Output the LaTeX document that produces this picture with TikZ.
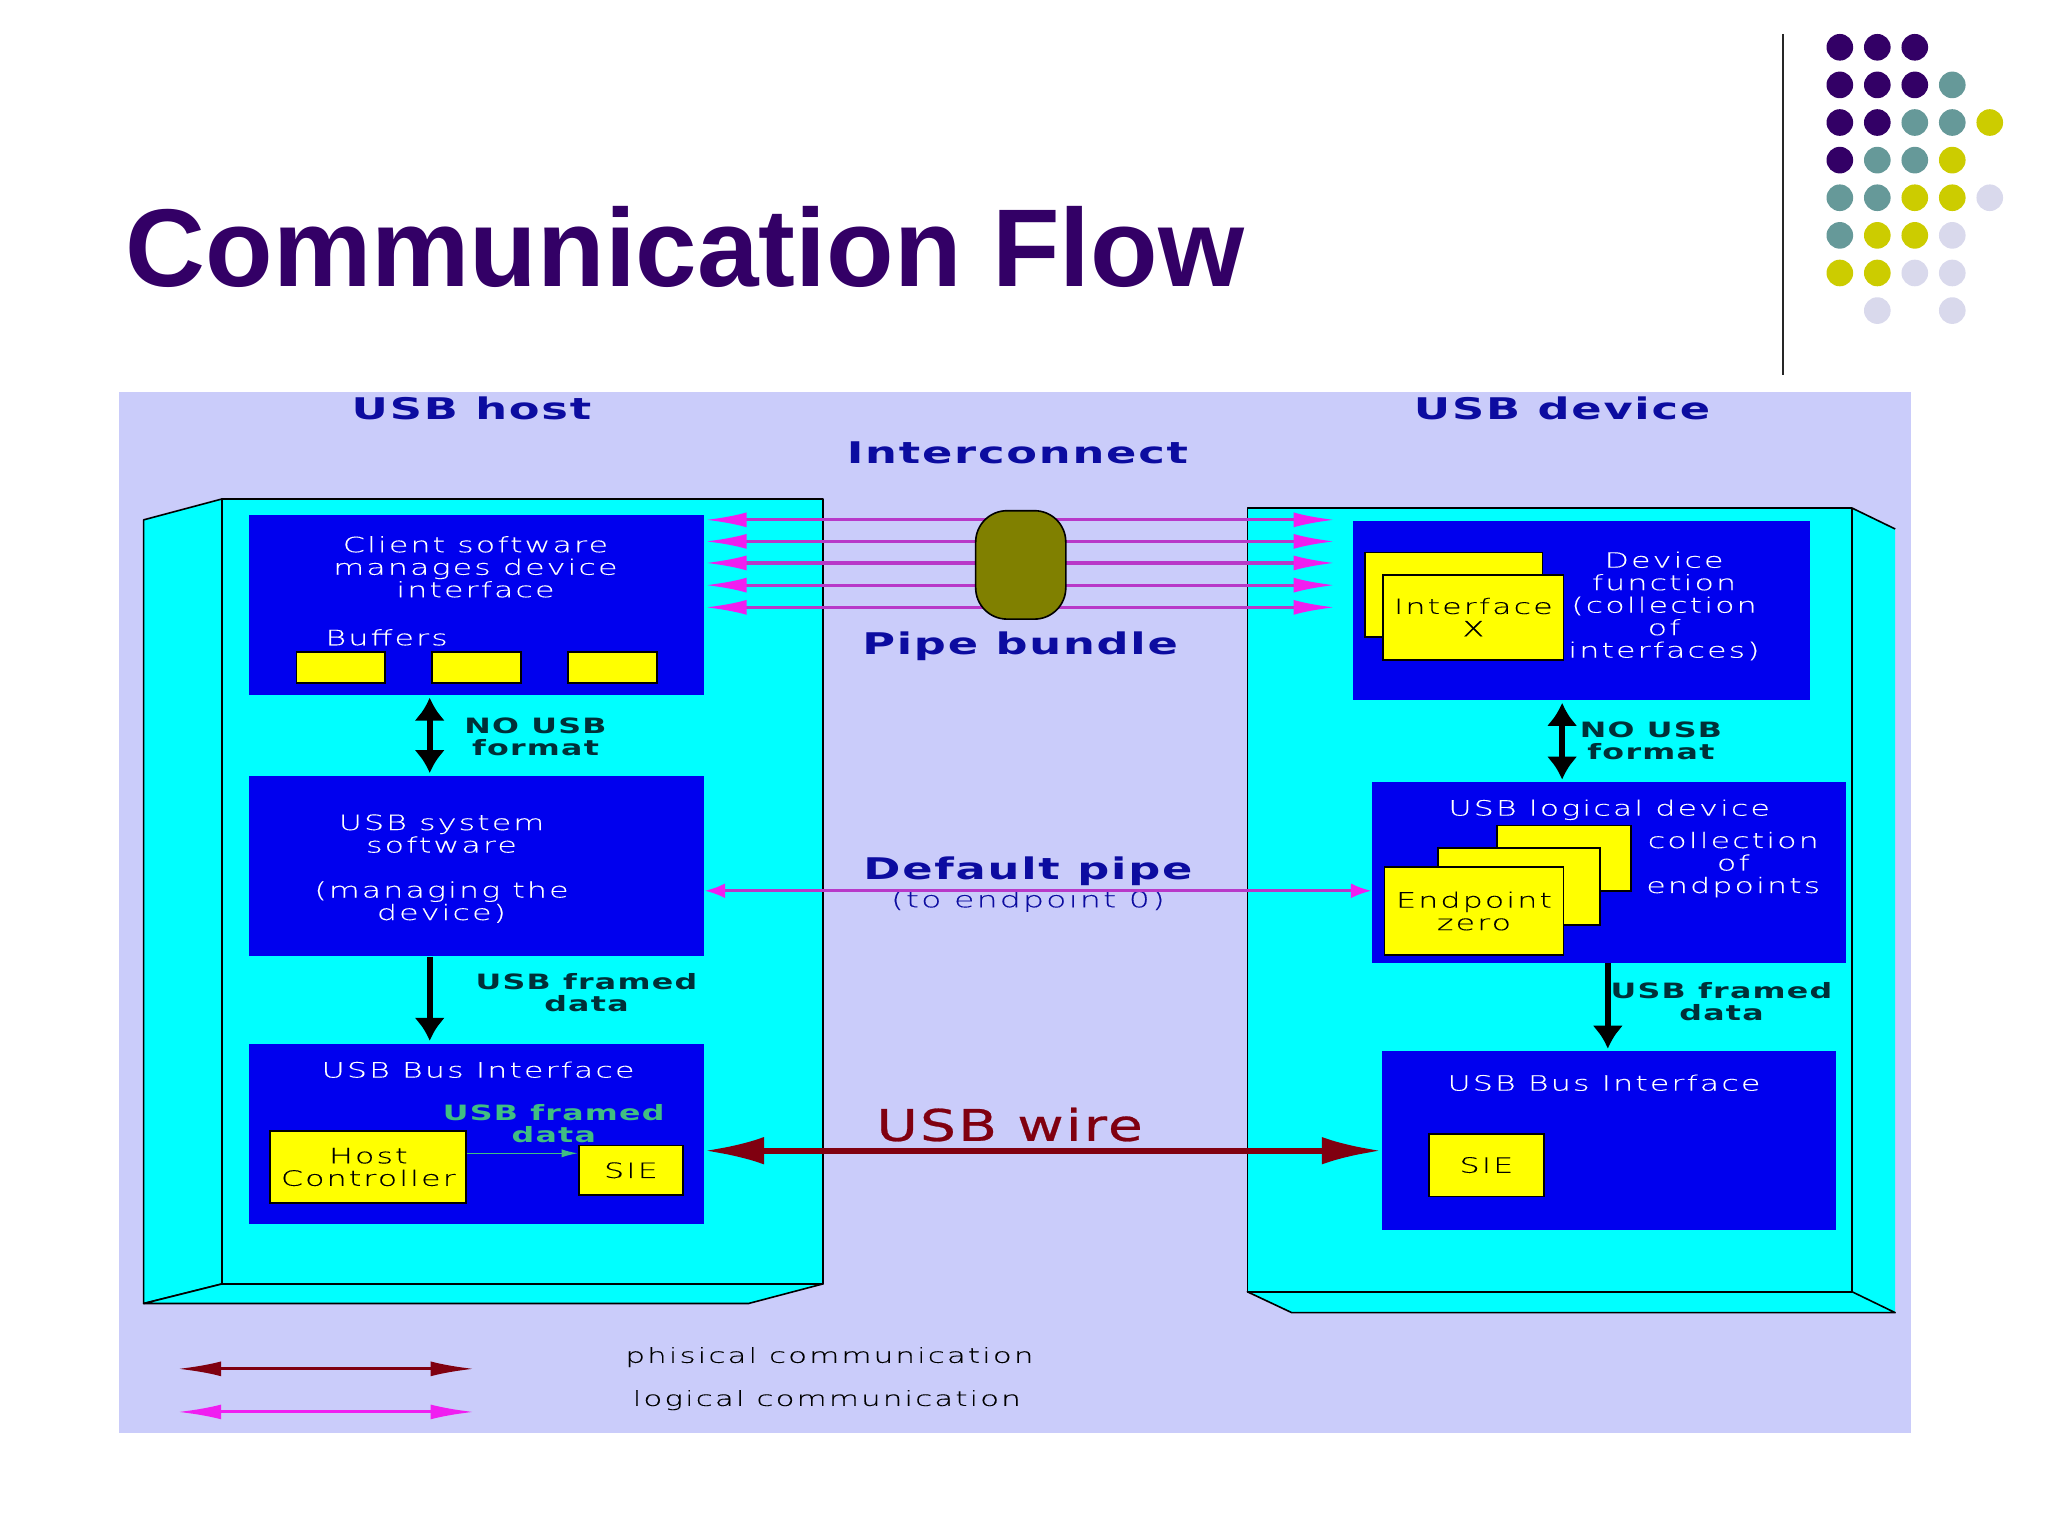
\documentclass[tikz,border=0pt]{standalone}
\usepackage{fontspec}
\setmainfont{Liberation Sans}
\newfontfamily\thinfont{DejaVu Sans ExtraLight}[FakeStretch=1.5,LetterSpace=10,FakeBold=0.25]
\newfontfamily\heavyfont{DejaVu Sans Bold}[FakeStretch=1.5,LetterSpace=6]
\newfontfamily\wirefont{DejaVu Sans}[FakeStretch=1.3,LetterSpace=5,FakeBold=0.6]
\usetikzlibrary{arrows.meta}
\definecolor{panelblue}{RGB}{202,204,250}
\definecolor{boxblue}{RGB}{0,0,238}
\definecolor{wallcyan}{RGB}{0,255,255}
\definecolor{boxyellow}{RGB}{255,255,0}
\definecolor{bundleolive}{RGB}{128,128,0}
\definecolor{navytext}{RGB}{12,12,160}
\definecolor{darkteal}{RGB}{0,48,56}
\definecolor{pipepink}{RGB}{184,56,200}
\definecolor{tippink}{RGB}{240,30,240}
\definecolor{wirered}{RGB}{128,0,16}
\definecolor{leafgreen}{RGB}{64,190,130}
\definecolor{titlepurple}{RGB}{51,0,102}
\definecolor{dotteal}{RGB}{102,153,153}
\definecolor{dotyellow}{RGB}{204,204,0}
\definecolor{dotlilac}{RGB}{217,217,236}
\begin{document}
\begin{tikzpicture}[x=0.02cm,y=-0.02cm,
  box size/.style 2 args={minimum width=#1*0.02cm,minimum height=#2*0.02cm},
  blue box/.style={fill=boxblue,inner sep=0pt},
  yellow box/.style={fill=boxyellow,draw=black,line width=0.8pt,inner sep=0pt,align=center,
    font=\thinfont\fontsize{9.2}{9.8}\selectfont,text=black},
  white text/.style={text=white,inner sep=0pt,align=center,font=\thinfont\fontsize{9.2}{9.8}\selectfont},
  legend text/.style={text=black,inner sep=0pt,font=\thinfont\fontsize{9}{9.8}\selectfont},
  head text/.style={text=navytext,inner sep=0pt,font=\heavyfont\fontsize{13}{14}\selectfont},
  bold text/.style={text=darkteal,inner sep=0pt,align=center,font=\heavyfont\fontsize{9.2}{9.6}\selectfont},
  wall/.style={fill=wallcyan,draw=black,line width=0.7pt,line join=round},
  pipe/.style={pipepink,line width=1.4pt,{Latex[length=18pt,width=6.5pt,tippink]}-{Latex[length=18pt,width=6.5pt,tippink]}},
  default pipe/.style={pipepink,line width=1.3pt,{Latex[length=9pt,width=6.5pt,tippink]}-{Latex[length=9pt,width=6.5pt,tippink]}},
  wire/.style={wirered,line width=2.6pt,{Latex[length=26pt,width=12pt]}-{Latex[length=26pt,width=12pt]}},
  legend wire/.style={wirered,line width=1.3pt,{Latex[length=19pt,width=6.5pt]}-{Latex[length=19pt,width=6.5pt]}},
  legend pipe/.style={tippink,line width=1.3pt,{Latex[length=19pt,width=6.5pt]}-{Latex[length=19pt,width=6.5pt]}},
  both way/.style={black,line width=2.6pt,{Latex[length=10pt,width=13.5pt]}-{Latex[length=10pt,width=13.5pt]},shorten <=1pt,shorten >=1pt},
  one way/.style={black,line width=2.6pt,-{Latex[length=10pt,width=13.5pt]},shorten >=1pt},
  dot/.style={circle,minimum size=20.4*0.02cm,inner sep=0pt}]

  \useasboundingbox (0,0) rectangle (1568,1176);

  \node[anchor=base west,inner sep=0pt,text=titlepurple,font=\fontsize{48.2}{58}\selectfont\bfseries] (title) at (96,219) {Communication Flow};
  \coordinate (rule top) at (1365,26);
  \coordinate (rule bottom) at (1365,287);
  \draw[black!85,line width=1.2pt] (rule top) -- (rule bottom);

  \foreach \c/\r in {0/0,1/0,2/0,0/1,1/1,2/1,0/2,1/2,0/3}
    \node[dot,fill=titlepurple] (dot\c\r) at ({1408.6+28.7*\c},{36.2+28.8*\r}) {};
  \foreach \c/\r in {3/1,2/2,3/2,1/3,2/3,0/4,1/4,0/5}
    \node[dot,fill=dotteal] (dot\c\r) at ({1408.6+28.7*\c},{36.2+28.8*\r}) {};
  \foreach \c/\r in {4/2,3/3,2/4,3/4,1/5,2/5,0/6,1/6}
    \node[dot,fill=dotyellow] (dot\c\r) at ({1408.6+28.7*\c},{36.2+28.8*\r}) {};
  \foreach \c/\r in {4/4,3/5,2/6,3/6,1/7,3/7}
    \node[dot,fill=dotlilac] (dot\c\r) at ({1408.6+28.7*\c},{36.2+28.8*\r}) {};

  \fill[panelblue] (91,300) rectangle (1463,1097);

  \draw[wall] (110,398) -- (170,382) -- (170,983) -- (110,998) -- cycle;
  \draw[wall] (110,998) -- (170,983) -- (630,983) -- (573,998) -- cycle;
  \draw[wall] (170,382) rectangle (630,983);

  \fill[wallcyan] (1418,389) -- (1451,405) -- (1451,1005) -- (1418,989) -- cycle;
  \draw[wall] (955,989) -- (989,1005) -- (1451,1005) -- (1418,989) -- cycle;
  \draw[black,line width=0.7pt] (1418,389) -- (1451,405);
  \draw[wall] (955,389) rectangle (1418,989);

  \node[blue box,box size={348}{138}] (client) at (365,463) {};
  \node[blue box,box size={348}{138}] (system) at (365,663) {};
  \node[blue box,box size={348}{138}] (bus host) at (365,868) {};
  \node[blue box,box size={350}{137}] (function) at (1211,467.5) {};
  \node[blue box,box size={363}{138}] (logical) at (1232,668) {};
  \node[blue box,box size={348}{137}] (bus device) at (1232,873.5) {};

  \node[yellow box,box size={68}{24}] (buffer 1) at (261,511) {};
  \node[yellow box,box size={68}{24}] (buffer 2) at (365,511) {};
  \node[yellow box,box size={68}{24}] (buffer 3) at (469,511) {};
  \node[yellow box,box size={150}{55}] (controller) at (282,893.5) {Host\\Controller};
  \node[yellow box,box size={80}{38}] (sie host) at (483,896) {SIE};
  \node[yellow box,box size={88}{48}] (sie device) at (1138,892) {SIE};
  \node[yellow box,box size={136}{65}] (interface back) at (1113,455.5) {};
  \node[yellow box,box size={138}{65}] (interface) at (1128,472.5) {Interface\\X};
  \node[yellow box,box size={103}{50}] (endpoint back) at (1197.5,657) {};
  \node[yellow box,box size={124}{59}] (endpoint middle) at (1163,678.5) {};
  \node[yellow box,box size={137}{67}] (endpoint) at (1128.5,697.5) {Endpoint\\zero};

  \node[head text] (host head) at (361,313) {USB host};
  \node[head text] (device head) at (1196,313) {USB device};
  \node[head text] (interconnect) at (779,347) {Interconnect};
  \node[head text] (bundle text) at (781,495) {Pipe bundle};
  \node[head text] (default text) at (787,667) {Default pipe};
  \node[text=navytext,inner sep=0pt,font=\thinfont\fontsize{9.6}{10}\selectfont] (endpoint text) at (787,690) {(to endpoint 0)};
  \node[text=wirered,inner sep=0pt,font=\wirefont\fontsize{19}{21}\selectfont] (wire text) at (773,861) {USB wire};

  \node[white text] (client text) at (364,434) {Client software\\manages device\\interface};
  \node[white text] (buffers text) at (296,488) {Buffers};
  \node[white text] (system text) at (338,665) {USB system\\software\\[9.8pt](managing the\\device)};
  \node[white text] (bus host text) at (366,819) {USB Bus Interface};
  \node[white text] (bus device text) at (1228,829) {USB Bus Interface};
  \node[white text] (function text) at (1274,464) {Device\\function\\(collection\\of\\interfaces)};
  \node[white text] (logical text) at (1232,620) {USB logical device};
  \node[white text] (collection text) at (1327,662) {collection\\of\\endpoints};

  \node[bold text] (no usb host) at (410,564) {NO USB\\format};
  \node[bold text] (no usb device) at (1264,567) {NO USB\\format};
  \node[bold text] (framed host) at (449,760) {USB framed\\data};
  \node[bold text] (framed device) at (1318,767) {USB framed\\data};
  \node[bold text,text=leafgreen] (framed inner) at (424,860) {USB framed\\data};

  \node[legend text] (physical text) at (635,1039) {phisical communication};
  \node[legend text] (logical comm text) at (633,1072) {logical communication};

  \coordinate (left arrows) at (329,0);
  \coordinate (right no usb) at (1196,0);
  \coordinate (right framed) at (1231,0);
  \coordinate (default level) at (0,682);
  \coordinate (wire level) at (0,881);
  \coordinate (inner level) at (0,883);

  \foreach \i/\yy in {1/398,2/414.5,3/431,4/448,5/465} {
    \coordinate (pipe left \i) at (540,\yy);
    \coordinate (pipe right \i) at (1022,\yy);
    \draw[pipe] (pipe left \i) -- (pipe right \i);
  }
  \node[fill=bundleolive,draw=black,line width=0.7pt,rounded corners=24*0.02cm,box size={69}{83},inner sep=0pt] (bundle) at (781.5,432.5) {};

  \draw[default pipe] (system.east |- default level) -- (logical.west |- default level);
  \draw[wire] (bus host.east |- wire level) -- (bus device.west |- wire level);

  \draw[both way] (client.south -| left arrows) -- (system.north -| left arrows);
  \draw[one way] (system.south -| left arrows) -- (bus host.north -| left arrows);
  \draw[both way] (function.south -| right no usb) -- (logical.north -| right no usb);
  \draw[one way] (logical.south -| right framed) -- (bus device.north -| right framed);
  \draw[leafgreen,line width=0.5pt,-{Latex[length=7pt,width=3.5pt]}] (controller.east |- inner level) -- (sie host.west |- inner level);

  \coordinate (legend a) at (136,1048);
  \coordinate (legend b) at (363,1048);
  \coordinate (legend c) at (136,1081);
  \coordinate (legend d) at (363,1081);
  \draw[legend wire] (legend a) -- (legend b);
  \draw[legend pipe] (legend c) -- (legend d);
\end{tikzpicture}
\end{document}
